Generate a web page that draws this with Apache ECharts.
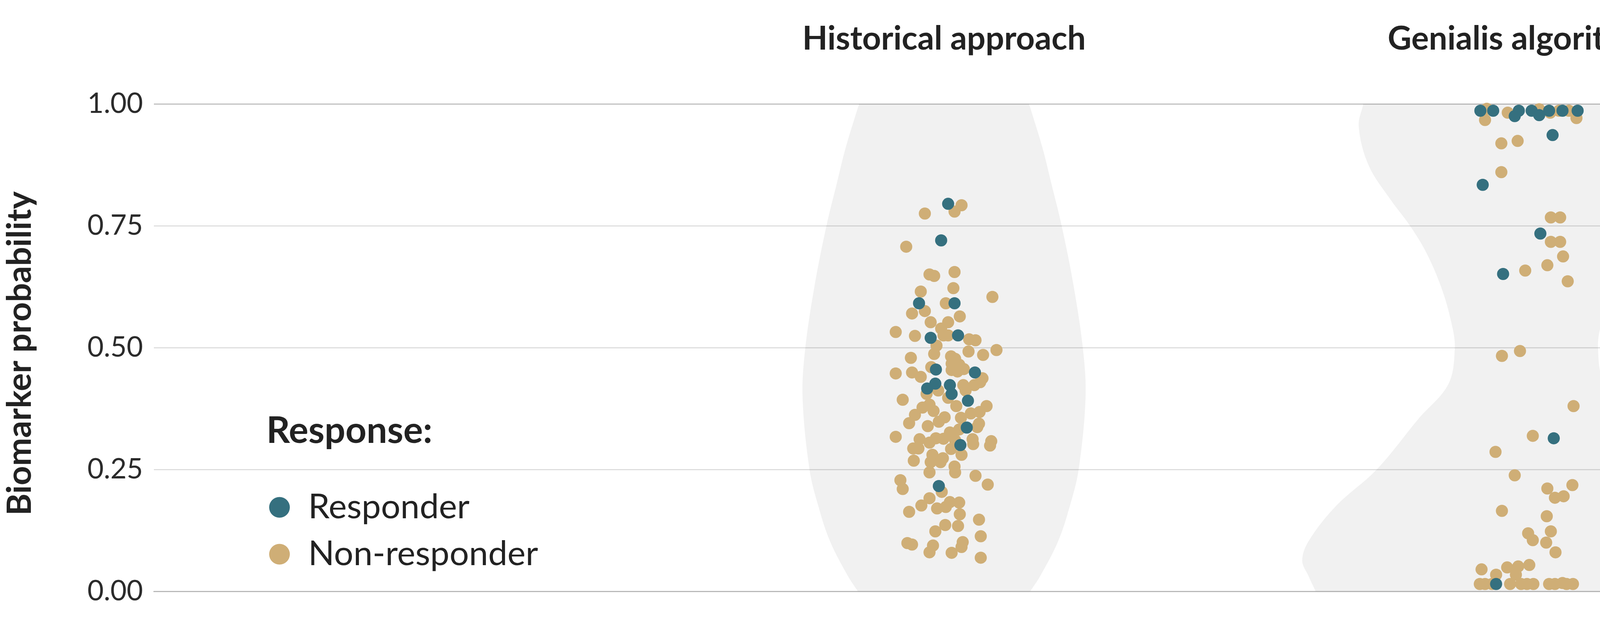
<!DOCTYPE html>
<html>
<head>
<meta charset="utf-8">
<script src="https://cdn.jsdelivr.net/npm/echarts@6/dist/echarts.min.js"></script>
<style>
html,body{margin:0;padding:0;background:#fff;}
#chart{width:5173px;height:1590px;}
</style>
</head>
<body>
<div id="chart"></div>
<script>
// Categories (violin groups), placed at x = 1 and x = 2
const categories = ['Historical approach', 'Genialis algorithms'];
const seriesNames = ['Responder', 'Non-responder'];
const yTicks = [0, 0.25, 0.5, 0.75, 1];

// [jitter offset from category centre, biomarker probability]
const historicalResponder = [
  [0.007,0.795],[-0.005,0.720],[-0.043,0.591],[0.018,0.591],[-0.023,0.520],[0.024,0.525],
  [-0.014,0.455],[0.053,0.449],[-0.015,0.426],[-0.029,0.416],[0.010,0.423],[0.013,0.405],
  [0.041,0.391],[0.039,0.336],[0.028,0.300],[-0.009,0.216]
];
const historicalNonResponder = [
  [0.030,0.792],[0.018,0.779],[-0.033,0.775],[-0.065,0.707],[-0.025,0.650],[-0.017,0.647],[0.018,0.655],
  [0.016,0.622],[-0.040,0.615],[0.083,0.604],[0.003,0.591],[-0.033,0.575],[-0.055,0.570],[0.027,0.564],
  [-0.023,0.552],[0.007,0.552],[-0.005,0.539],[-0.001,0.525],[0.007,0.525],[-0.083,0.532],[-0.050,0.524],
  [0.043,0.517],[0.054,0.515],[-0.013,0.504],[0.090,0.495],[0.042,0.492],[-0.017,0.487],[0.067,0.485],
  [-0.057,0.479],[0.012,0.482],[0.019,0.477],[-0.022,0.460],[0.013,0.467],[0.023,0.451],[0.013,0.454],
  [0.034,0.456],[0.026,0.465],[-0.083,0.447],[-0.055,0.449],[-0.040,0.440],[0.066,0.437],[-0.010,0.412],
  [-0.030,0.405],[0.033,0.423],[0.052,0.423],[0.062,0.429],[0.037,0.412],[0.007,0.397],[-0.071,0.393],
  [0.021,0.380],[0.073,0.380],[-0.037,0.377],[-0.025,0.383],[-0.018,0.370],[-0.050,0.362],[0.046,0.365],
  [0.061,0.368],[0.001,0.357],[0.029,0.356],[-0.009,0.348],[-0.060,0.345],[-0.028,0.339],[0.060,0.344],
  [0.057,0.337],[0.010,0.326],[0.026,0.332],[-0.083,0.317],[-0.042,0.312],[-0.014,0.314],[-0.025,0.305],
  [-0.001,0.313],[0.049,0.312],[0.050,0.302],[0.081,0.308],[0.079,0.299],[0.019,0.310],[0.012,0.292],
  [-0.044,0.293],[-0.053,0.293],[0.030,0.280],[-0.020,0.280],[-0.002,0.273],[-0.052,0.268],[-0.023,0.265],
  [-0.006,0.265],[0.018,0.256],[-0.025,0.244],[0.019,0.244],[0.054,0.237],[-0.075,0.228],[0.075,0.219],
  [-0.071,0.210],[-0.004,0.204],[-0.025,0.191],[-0.039,0.176],[-0.060,0.163],[-0.012,0.170],[0.003,0.173],
  [0.010,0.183],[0.026,0.182],[0.027,0.158],[0.060,0.147],[0.002,0.136],[0.024,0.134],[-0.015,0.123],
  [0.063,0.113],[-0.063,0.099],[-0.055,0.096],[-0.019,0.094],[-0.025,0.080],[0.032,0.101],[0.030,0.091],
  [0.013,0.079],[0.063,0.069]
];
const genialisResponder = [
  [-0.079,0.986],[-0.057,0.986],[-0.013,0.986],[-0.020,0.975],[0.009,0.986],[0.022,0.977],[0.039,0.986],
  [0.062,0.986],[0.088,0.986],[0.045,0.936],[-0.075,0.834],[0.024,0.734],[-0.040,0.651],[0.047,0.314],
  [-0.052,0.015]
];
const genialisNonResponder = [
  [-0.068,0.990],[-0.071,0.967],[-0.032,0.982],[0.022,0.989],[0.041,0.982],[0.056,0.986],[0.073,0.986],
  [0.086,0.971],[-0.043,0.919],[-0.015,0.924],[-0.043,0.860],[0.042,0.767],[0.058,0.767],[0.042,0.717],
  [0.058,0.717],[0.063,0.687],[0.036,0.669],[-0.002,0.658],[0.071,0.636],[-0.042,0.483],[-0.011,0.493],
  [0.081,0.380],[0.011,0.319],[-0.053,0.286],[-0.020,0.238],[0.079,0.218],[0.036,0.211],[0.049,0.192],
  [0.064,0.195],[-0.042,0.165],[0.035,0.154],[0.003,0.119],[0.042,0.123],[0.011,0.105],[0.034,0.100],
  [0.050,0.080],[-0.077,0.045],[-0.033,0.049],[-0.014,0.051],[0.005,0.054],[-0.052,0.034],[-0.018,0.034],
  [-0.080,0.015],[-0.071,0.015],[-0.059,0.015],[-0.028,0.015],[-0.009,0.015],[0.001,0.015],[0.012,0.015],
  [0.039,0.015],[0.049,0.015],[0.062,0.017],[0.069,0.015],[0.080,0.015]
];

// Violin outlines: [probability, half-width in x units]
const historicalViolin = [
  [0,0.148],[0.031,0.165],[0.103,0.196],[0.175,0.216],[0.249,0.231],[0.396,0.243],
  [0.492,0.239],[0.623,0.223],[0.75,0.202],[0.838,0.184],[0.910,0.169],[1,0.146]
];
const genialisViolin = [
  [0,0.362],[0.031,0.374],[0.063,0.385],[0.103,0.374],[0.175,0.327],[0.25,0.257],[0.353,0.186],
  [0.425,0.134],[0.5,0.123],[0.552,0.129],[0.623,0.146],[0.695,0.172],[0.75,0.2],[0.803,0.233],
  [0.874,0.271],[0.954,0.288],[1,0.28]
];

const violins = [historicalViolin, genialisViolin];
const colors = { Responder: '#35707f', 'Non-responder': '#cfae76' };
const FONT = 'Lato';

function place(points, centre) {
  return points.map(p => [centre + p[0], p[1]]);
}

const chart = echarts.init(document.getElementById('chart'), null, { renderer: 'canvas' });

chart.setOption({
  animation: false,
  backgroundColor: '#ffffff',
  grid: { left: 390, right: 0, top: 266, bottom: 76, containLabel: false },
  xAxis: {
    type: 'value',
    min: -0.35692,
    max: 2.84888,
    axisLine: { show: true, onZero: false, lineStyle: { color: '#b9b9b9', width: 3 } },
    axisTick: { show: false },
    axisLabel: { show: false },
    splitLine: { show: false }
  },
  yAxis: {
    type: 'value',
    min: 0,
    max: 1,
    interval: 0.25,
    name: 'Biomarker probability',
    nameLocation: 'middle',
    nameGap: 300,
    nameTextStyle: { fontFamily: FONT, fontSize: 86, fontWeight: 'bold', color: '#222', padding: [0, 30, 0, 0] },
    axisLine: { show: false },
    axisTick: { show: false },
    axisLabel: {
      margin: 28,
      fontFamily: FONT,
      fontSize: 72,
      color: '#2b2b2b',
      formatter: v => yTicks.includes(v) ? v.toFixed(2) : ''
    },
    splitLine: {
      show: true,
      lineStyle: { color: ['#bcbcbc', '#d9d9d9', '#d9d9d9', '#d9d9d9', '#b5b5b5'], width: 2.5 }
    }
  },
  legend: {
    data: seriesNames,
    orient: 'vertical',
    left: 684,
    top: 1250,
    icon: 'circle',
    itemWidth: 53,
    itemHeight: 53,
    itemGap: 32,
    textStyle: { fontFamily: FONT, fontSize: 88, color: '#222', lineHeight: 88, padding: [0, 0, 0, 42] }
  },
  graphic: [{
    type: 'text',
    x: 682,
    y: 1104,
    style: { text: 'Response:', font: 'bold 94px Lato', fill: '#222', verticalAlign: 'middle' }
  }],
  series: [
    {
      type: 'custom',
      name: 'violins',
      silent: true,
      z: 1,
      data: [[1, 0.5], [2, 0.5]],
      encode: { x: 0, y: 1 },
      renderItem: function (params, api) {
        const i = params.dataIndex;
        const prof = violins[i];
        const c = i + 1;
        const left = prof.map(p => api.coord([c - p[1], p[0]]));
        const right = prof.slice().reverse().map(p => api.coord([c + p[1], p[0]]));
        const pts = [left[0]].concat(left, [left[left.length - 1], right[0]], right, [right[right.length - 1]]);
        const top = api.coord([c, 1]);
        return {
          type: 'group',
          children: [
            { type: 'polygon', shape: { points: pts, smooth: 0.35 }, style: { fill: 'rgba(0,0,0,0.055)' } },
            { type: 'text', x: top[0], y: top[1] - 166,
              style: { text: categories[i], font: 'bold 84px Lato', fill: '#222', align: 'center', verticalAlign: 'middle' } }
          ]
        };
      }
    },
    {
      type: 'scatter',
      name: 'Non-responder',
      z: 2,
      symbol: 'circle',
      symbolSize: 31,
      itemStyle: { color: colors['Non-responder'], opacity: 1 },
      data: place(historicalNonResponder, 1).concat(place(genialisNonResponder, 2))
    },
    {
      type: 'scatter',
      name: 'Responder',
      z: 3,
      symbol: 'circle',
      symbolSize: 31,
      itemStyle: { color: colors['Responder'], opacity: 1 },
      data: place(historicalResponder, 1).concat(place(genialisResponder, 2))
    }
  ]
});
</script>
</body>
</html>
